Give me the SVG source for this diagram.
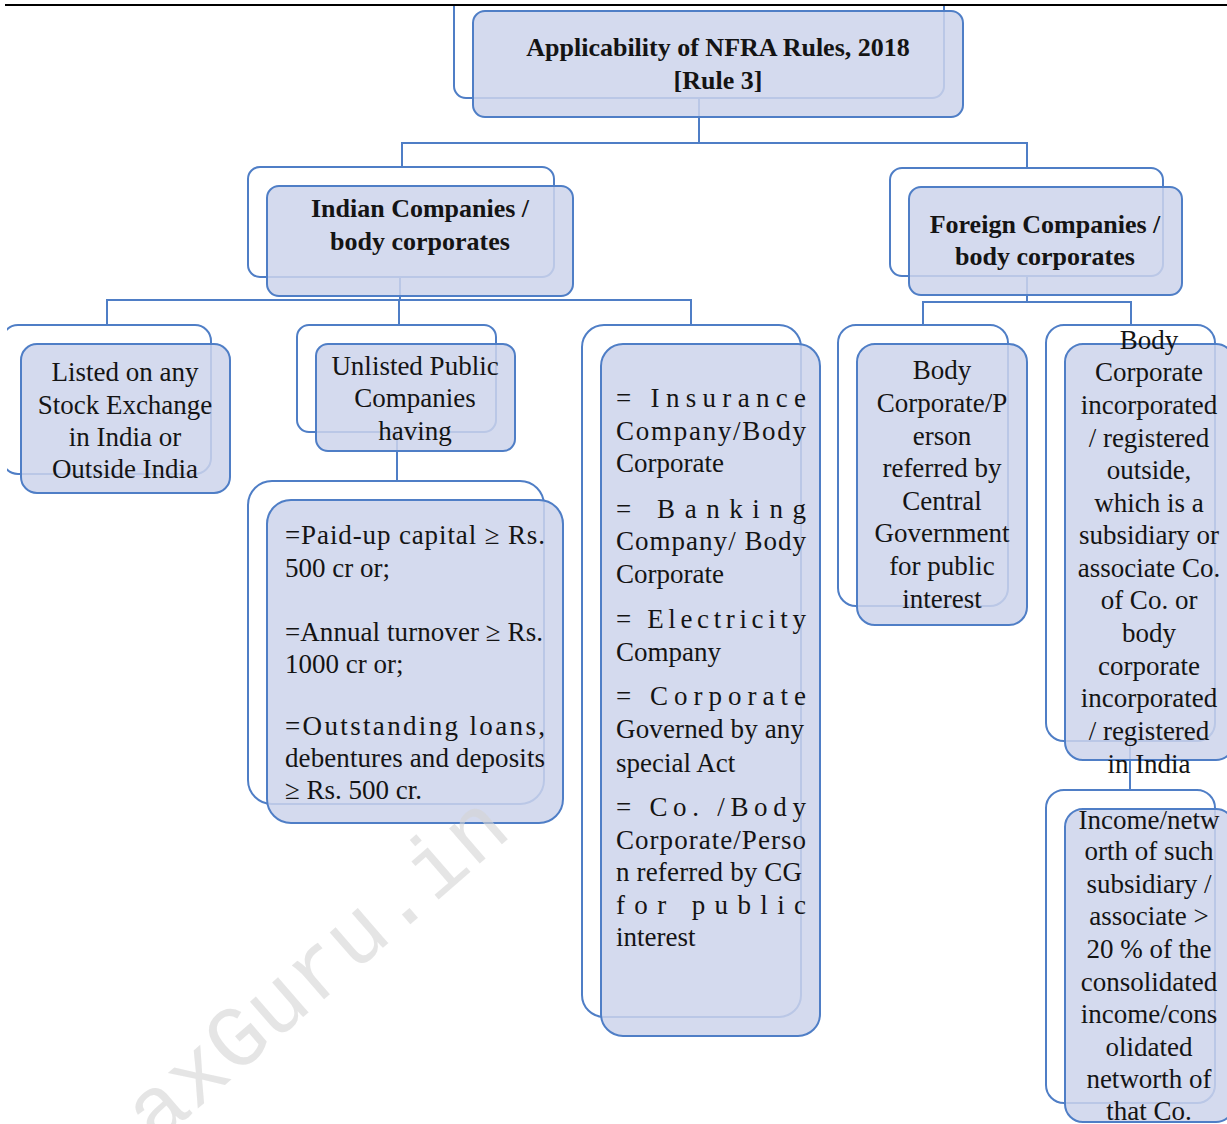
<svg xmlns="http://www.w3.org/2000/svg" width="1227" height="1124" viewBox="0 0 1227 1124">
<defs>
<style>
.back{fill:#ffffff;stroke:#4f7ec6;stroke-width:2}
.front{fill:rgb(205,212,235);fill-opacity:.85;stroke:#4f7ec6;stroke-width:2}
.conn{fill:none;stroke:#4f7ec6;stroke-width:2}
.t{font-family:"Liberation Serif","Times New Roman",serif;font-size:27px;fill:#141414}
.c{text-anchor:middle}
.b{font-weight:bold;font-size:26px}
.wm{font-family:"Liberation Mono","Courier New",monospace;font-size:88px;fill:#d4d4d4;fill-opacity:.6}
</style>
<clipPath id="page"><rect x="7" y="6" width="1220" height="1118"/></clipPath>
</defs>
<rect x="0" y="0" width="1227" height="1124" fill="#ffffff"/>
<line x1="5" y1="5" x2="1227" y2="5" stroke="#000" stroke-width="2"/>
<g clip-path="url(#page)">
<g id="connectors">
<path class="conn" d="M699 98V143M402 167V143H1027V168"/>
<path class="conn" d="M400 277V300M107 325V300H691V325M399 300V325"/>
<path class="conn" d="M1027 276V302M923 325V302H1131V325"/>
<path class="conn" d="M397 432V481"/>
<path class="conn" d="M1130 741V790"/>
</g>
<g id="root">
<rect class="back" x="454" y="-8" width="490" height="106" rx="12"/>
<rect class="front" x="473" y="11" width="490" height="106" rx="12"/>
<text class="t c b" x="718" y="56">Applicability of NFRA Rules, 2018</text>
<text class="t c b" x="718" y="89">[Rule 3]</text>
</g>
<g id="indian">
<rect class="back" x="248" y="167" width="306" height="110" rx="12"/>
<rect class="front" x="267" y="186" width="306" height="110" rx="12"/>
<text class="t c b" x="420" y="217">Indian Companies /</text>
<text class="t c b" x="420" y="250">body corporates</text>
</g>
<g id="foreign">
<rect class="back" x="890" y="168" width="273" height="108" rx="12"/>
<rect class="front" x="909" y="187" width="273" height="108" rx="12"/>
<text class="t c b" x="1045" y="233">Foreign Companies /</text>
<text class="t c b" x="1045" y="265">body corporates</text>
</g>
<g id="listed">
<rect class="back" x="2" y="325" width="209" height="149" rx="16"/>
<rect class="front" x="21" y="344" width="209" height="149" rx="16"/>
<text class="t c" x="125" y="381">Listed on any</text>
<text class="t c" x="125" y="414">Stock Exchange</text>
<text class="t c" x="125" y="446">in India or</text>
<text class="t c" x="125" y="478">Outside India</text>
</g>
<g id="unlisted">
<rect class="back" x="297" y="325" width="199" height="107" rx="12"/>
<rect class="front" x="316" y="344" width="199" height="107" rx="12"/>
<text class="t c" x="415" y="375">Unlisted Public</text>
<text class="t c" x="415" y="407">Companies</text>
<text class="t c" x="415" y="440">having</text>
</g>
<g id="criteria">
<rect class="back" x="248" y="481" width="296" height="323" rx="24"/>
<rect class="front" x="267" y="500" width="296" height="323" rx="24"/>
<text class="t" x="285" y="544" textLength="260" lengthAdjust="spacing">=Paid-up capital ≥ Rs.</text>
<text class="t" x="285" y="577">500 cr or;</text>
<text class="t" x="285" y="641" textLength="258" lengthAdjust="spacing">=Annual turnover ≥ Rs.</text>
<text class="t" x="285" y="673">1000 cr or;</text>
<text class="t" x="285" y="735" textLength="260" lengthAdjust="spacing">=Outstanding loans,</text>
<text class="t" x="285" y="767" textLength="260" lengthAdjust="spacing">debentures and deposits</text>
<text class="t" x="285" y="799">≥ Rs. 500 cr.</text>
</g>
<g id="special">
<rect class="back" x="582" y="325" width="219" height="692" rx="22"/>
<rect class="front" x="601" y="344" width="219" height="692" rx="22"/>
<text class="t" x="616" y="407" textLength="190" lengthAdjust="spacing">= Insurance</text>
<text class="t" x="616" y="440" textLength="190" lengthAdjust="spacing">Company/Body</text>
<text class="t" x="616" y="472">Corporate</text>
<text class="t" x="616" y="518" textLength="190" lengthAdjust="spacing">= Banking</text>
<text class="t" x="616" y="550" textLength="190" lengthAdjust="spacing">Company/ Body</text>
<text class="t" x="616" y="583">Corporate</text>
<text class="t" x="616" y="628" textLength="190" lengthAdjust="spacing">= Electricity</text>
<text class="t" x="616" y="661">Company</text>
<text class="t" x="616" y="705" textLength="190" lengthAdjust="spacing">= Corporate</text>
<text class="t" x="616" y="738" textLength="188" lengthAdjust="spacing">Governed by any</text>
<text class="t" x="616" y="772">special Act</text>
<text class="t" x="616" y="816" textLength="190" lengthAdjust="spacing">= Co. /Body</text>
<text class="t" x="616" y="849" textLength="190" lengthAdjust="spacing">Corporate/Perso</text>
<text class="t" x="616" y="881" textLength="186" lengthAdjust="spacing">n referred by CG</text>
<text class="t" x="616" y="914" textLength="190" lengthAdjust="spacing">for public</text>
<text class="t" x="616" y="946">interest</text>
</g>
<g id="referred">
<rect class="back" x="838" y="325" width="170" height="281" rx="18"/>
<rect class="front" x="857" y="344" width="170" height="281" rx="18"/>
<text class="t c" x="942" y="379">Body</text>
<text class="t c" x="942" y="412">Corporate/P</text>
<text class="t c" x="942" y="445">erson</text>
<text class="t c" x="942" y="477">referred by</text>
<text class="t c" x="942" y="510">Central</text>
<text class="t c" x="942" y="542">Government</text>
<text class="t c" x="942" y="575">for public</text>
<text class="t c" x="942" y="608">interest</text>
</g>
<g id="outside">
<rect class="back" x="1046" y="325" width="169" height="416" rx="18"/>
<rect class="front" x="1065" y="344" width="169" height="416" rx="18"/>
<text class="t c" x="1149" y="349">Body</text>
<text class="t c" x="1149" y="381">Corporate</text>
<text class="t c" x="1149" y="414">incorporated</text>
<text class="t c" x="1149" y="447">/ registered</text>
<text class="t c" x="1149" y="479">outside,</text>
<text class="t c" x="1149" y="512">which is a</text>
<text class="t c" x="1149" y="544">subsidiary or</text>
<text class="t c" x="1149" y="577">associate Co.</text>
<text class="t c" x="1149" y="609">of Co. or</text>
<text class="t c" x="1149" y="642">body</text>
<text class="t c" x="1149" y="675">corporate</text>
<text class="t c" x="1149" y="707">incorporated</text>
<text class="t c" x="1149" y="740">/ registered</text>
<text class="t c" x="1149" y="773">in India</text>
</g>
<g id="income">
<rect class="back" x="1046" y="790" width="169" height="313" rx="18"/>
<rect class="front" x="1065" y="809" width="169" height="313" rx="18"/>
<text class="t c" x="1149" y="829">Income/netw</text>
<text class="t c" x="1149" y="860">orth of such</text>
<text class="t c" x="1149" y="893">subsidiary /</text>
<text class="t c" x="1149" y="925">associate &gt;</text>
<text class="t c" x="1149" y="958">20 % of the</text>
<text class="t c" x="1149" y="991">consolidated</text>
<text class="t c" x="1149" y="1023">income/cons</text>
<text class="t c" x="1149" y="1056">olidated</text>
<text class="t c" x="1149" y="1088">networth of</text>
<text class="t c" x="1149" y="1120">that Co.</text>
</g>
</g>
<text class="wm" x="155" y="1146" transform="rotate(-41 155 1146)">axGuru.in</text>
</svg>
